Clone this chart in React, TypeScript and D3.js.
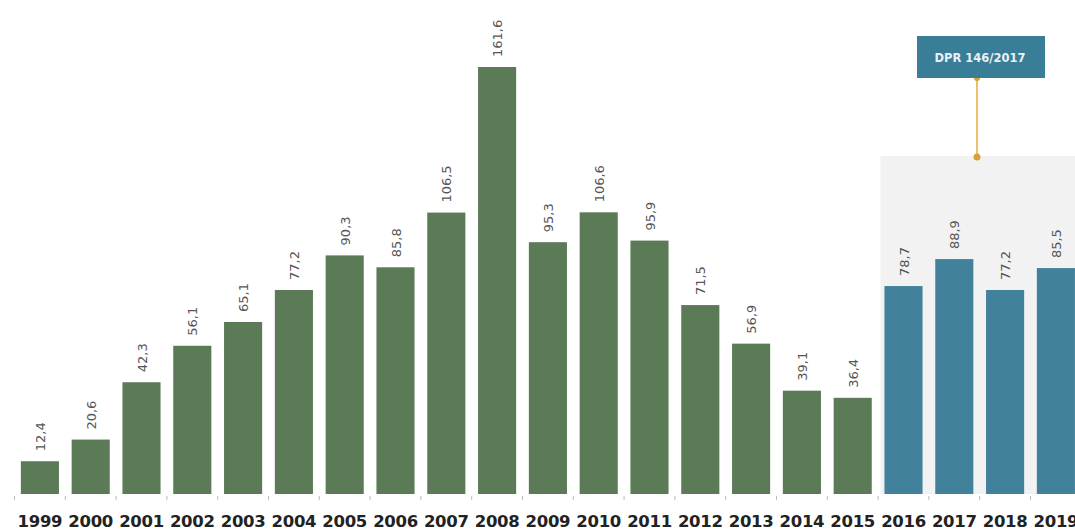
import React from "react";
import * as d3 from "d3";

const years = ["1999","2000","2001","2002","2003","2004","2005","2006","2007","2008","2009","2010","2011","2012","2013","2014","2015","2016","2017","2018","2019"];
const values = [12.4,20.6,42.3,56.1,65.1,77.2,90.3,85.8,106.5,161.6,95.3,106.6,95.9,71.5,56.9,39.1,36.4,78.7,88.9,77.2,85.5];
const labels = ["12,4","20,6","42,3","56,1","65,1","77,2","90,3","85,8","106,5","161,6","95,3","106,6","95,9","71,5","56,9","39,1","36,4","78,7","88,9","77,2","85,5"];
const highlightYears = ["2016","2017","2018","2019"];
const annotationText = "DPR 146/2017";

const W = 1075, H = 532;
const baseY = 494;

export default function App() {
  const step = 50.8;
  const x = d3.scaleBand<string>().domain(years).range([14.5, 14.5 + step * years.length]).paddingInner(0.25).paddingOuter(0.125);
  const y = d3.scaleLinear().domain([0, 161.6]).range([baseY, 67]);
  const green = "#5b7a56";
  const blue = "#41819b";
  const hx0 = (x("2016") as number) - 4;
  const annX = 977;
  return (
    <div style={{ position: "fixed", left: 0, top: 0, width: W, height: H, overflow: "hidden" }}>
      <svg width={W} height={H} style={{ display: "block", background: "#fff" }}>
        <rect x={hx0} y={156} width={W - hx0} height={baseY - 156} fill="#f2f2f2" />
        {years.map((yr, i) => {
          const bx = x(yr) as number;
          const hi = highlightYears.includes(yr);
          return (
            <g key={yr}>
              <rect x={bx} y={y(values[i])} width={x.bandwidth()} height={baseY - y(values[i])} fill={hi ? blue : green} />
              <text
                transform={`translate(${bx + x.bandwidth() / 2 + 5},${y(values[i]) - 10}) rotate(-90)`}
                fontFamily="'DejaVu Sans', sans-serif"
                fontSize={13}
                fill="#555"
              >{labels[i]}</text>
              <text x={bx + x.bandwidth() / 2} y={527} textAnchor="middle" fontFamily="'DejaVu Sans', sans-serif" fontSize={16.5} fontWeight={600} fill="#222" letterSpacing={-0.3}>{yr}</text>
              <line x1={bx - (step - x.bandwidth()) / 2} x2={bx - (step - x.bandwidth()) / 2} y1={baseY + 2} y2={baseY + 6} stroke="#bbb" />
            </g>
          );
        })}
        <line x1={annX} x2={annX} y1={78} y2={157} stroke="#e8a93a" strokeWidth={1.5} />
        <circle cx={annX} cy={157} r={3.5} fill="#d9a03a" />
        <circle cx={annX} cy={78} r={3} fill="#d9a03a" />
        <rect x={917} y={36} width={128} height={42} fill="#3a7d96" />
        <text x={980} y={62} textAnchor="middle" fontFamily="'DejaVu Sans', sans-serif" fontSize={11.5} fontWeight="bold" fill="#e8f2f6">{annotationText}</text>
      </svg>
    </div>
  );
}
